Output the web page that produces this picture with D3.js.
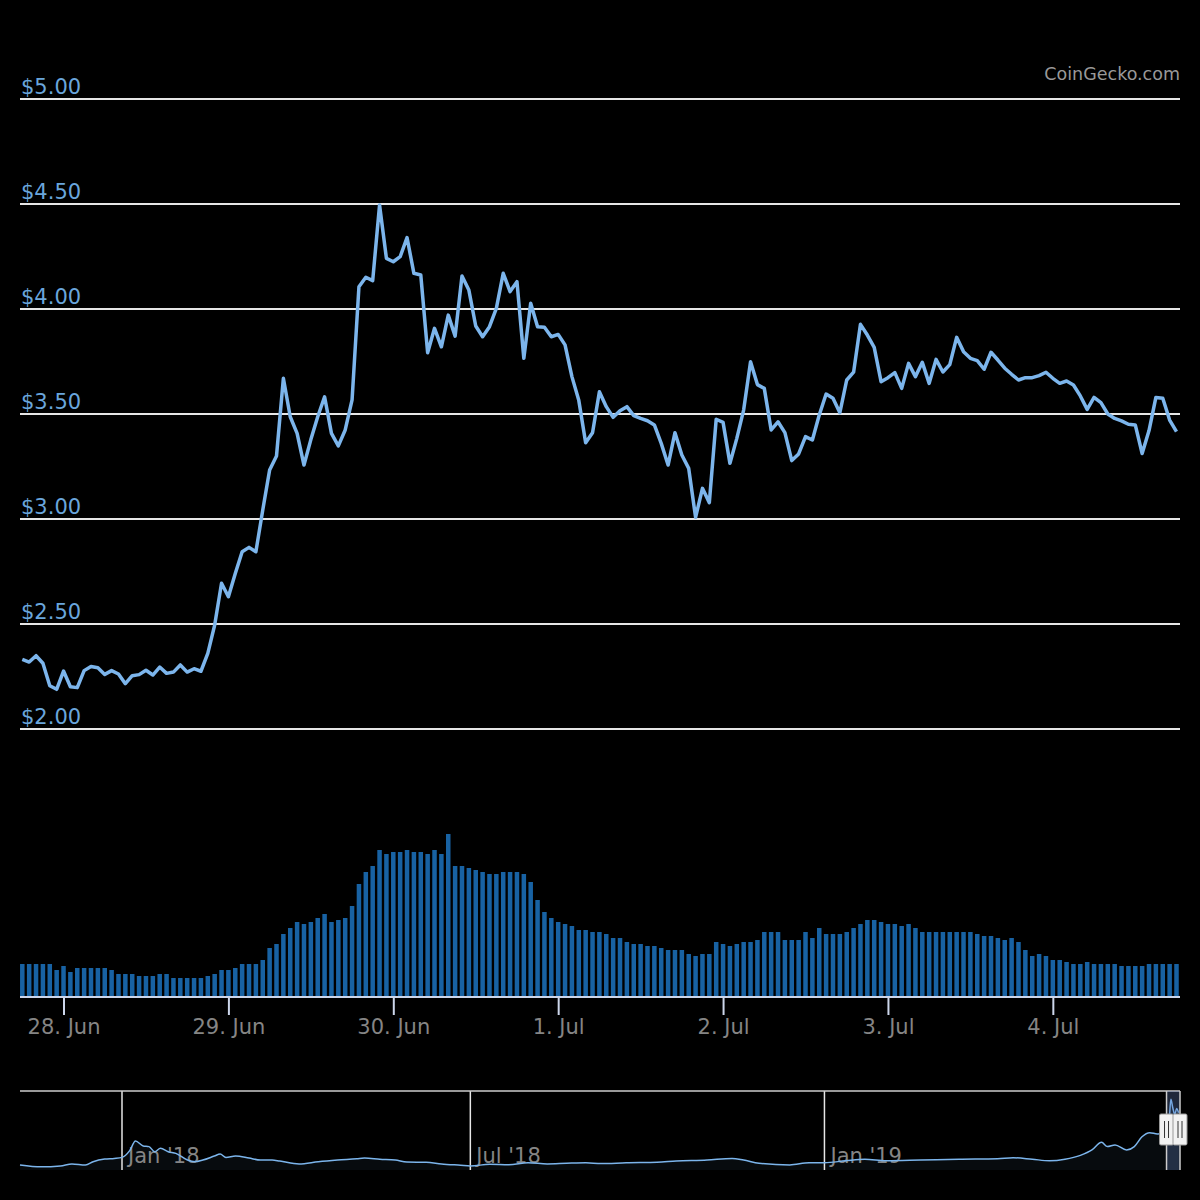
<!DOCTYPE html>
<html>
<head>
<meta charset="utf-8">
<script src="https://cdn.jsdelivr.net/npm/d3@7"></script>
<style>
  body { margin: 0; background: #000; }
  svg { display: block; font-family: "DejaVu Sans", sans-serif; }
</style>
</head>
<body>
<script>
// hourly price, USD, starting 27 Jun 2019 18:00 UTC
var startTime = Date.UTC(2019, 5, 27, 18)
var prices = [
  2.332, 2.319, 2.349, 2.313, 2.206, 2.189, 2.276, 2.201, 2.197, 2.278,
  2.298, 2.292, 2.260, 2.278, 2.262, 2.216, 2.254, 2.259, 2.280, 2.257,
  2.295, 2.265, 2.271, 2.305, 2.271, 2.287, 2.275, 2.360, 2.495, 2.694,
  2.630, 2.741, 2.844, 2.865, 2.844, 3.043, 3.233, 3.300, 3.670, 3.487,
  3.408, 3.257, 3.378, 3.487, 3.582, 3.408, 3.348, 3.424, 3.567, 4.106,
  4.151, 4.135, 4.495, 4.241, 4.225, 4.249, 4.340, 4.170, 4.162, 3.792,
  3.908, 3.820, 3.971, 3.871, 4.157, 4.090, 3.919, 3.868, 3.916, 4.003,
  4.170, 4.083, 4.130, 3.765, 4.027, 3.916, 3.913, 3.868, 3.879, 3.829,
  3.678, 3.565, 3.363, 3.411, 3.606, 3.535, 3.484, 3.516, 3.535, 3.492,
  3.479, 3.468, 3.448, 3.360, 3.257, 3.411, 3.305, 3.241, 3.008, 3.146,
  3.078, 3.475, 3.460, 3.265, 3.384, 3.520, 3.749, 3.640, 3.622, 3.424,
  3.463, 3.411, 3.278, 3.310, 3.392, 3.376, 3.495, 3.595, 3.575, 3.506,
  3.662, 3.699, 3.927, 3.876, 3.817, 3.654, 3.673, 3.697, 3.622, 3.741,
  3.678, 3.746, 3.646, 3.760, 3.700, 3.735, 3.865, 3.797, 3.765, 3.754,
  3.713, 3.794, 3.757, 3.718, 3.689, 3.662, 3.673, 3.673, 3.683, 3.699,
  3.670, 3.646, 3.657, 3.638, 3.586, 3.522, 3.579, 3.554, 3.500, 3.479,
  3.467, 3.451, 3.448, 3.312, 3.421, 3.579, 3.575, 3.471, 3.416
]

// hourly volume (relative units)
var volumes = [
  33, 33, 33, 33, 33, 27, 31, 25, 29, 29, 29, 29, 29, 27, 23, 23, 23, 21, 21, 21,
  23, 23, 19, 19, 19, 19, 19, 21, 23, 27, 27, 29, 33, 33, 33, 37, 49, 53, 63, 69,
  75, 73, 75, 79, 83, 75, 77, 79, 91, 113, 125, 131, 147, 143, 145, 145,
  147, 145, 145, 143, 147, 143, 163, 131, 131, 129, 127, 125, 123, 123, 125, 125,
  125, 123, 115, 97, 85, 79, 75, 73, 71, 67, 67, 65, 65, 63, 59, 59, 55, 53,
  53, 51, 51, 49, 47, 47, 47, 43, 41, 43, 43, 55, 53, 51, 53, 55, 55, 57, 65, 65,
  65, 57,
  57, 57, 65, 59, 69, 63, 63, 63, 65, 69, 73, 77, 77, 75, 73, 73, 71, 73, 69, 65,
  65, 65, 65, 65, 65, 65, 65, 63, 61, 61, 59, 57, 59, 55, 47, 41, 43, 41, 37, 37,
  35, 33, 33, 35, 33, 33, 33, 33, 31, 31, 31, 31, 33, 33, 33, 33, 33
]

var priceTicks = [2, 2.5, 3, 3.5, 4, 4.5, 5]
var dayTicks = ["2019-06-28", "2019-06-29", "2019-06-30", "2019-07-01", "2019-07-02", "2019-07-03", "2019-07-04"]
var dayLabels = ["28. Jun", "29. Jun", "30. Jun", "1. Jul", "2. Jul", "3. Jul", "4. Jul"]

// navigator: full history
var navDates = [
  "2017-11-09", "2017-11-20", "2017-11-30", "2017-12-06", "2017-12-13", "2017-12-17", "2017-12-23", "2017-12-28",
  "2018-01-01", "2018-01-05", "2018-01-08", "2018-01-12", "2018-01-15", "2018-01-18", "2018-01-21", "2018-01-25",
  "2018-01-29", "2018-02-04", "2018-02-08", "2018-02-12", "2018-02-18", "2018-02-21", "2018-02-24", "2018-03-01",
  "2018-03-08", "2018-03-14", "2018-03-20", "2018-03-24", "2018-04-03", "2018-04-13", "2018-04-23", "2018-05-03",
  "2018-05-07", "2018-05-15", "2018-05-23", "2018-05-29", "2018-06-08", "2018-06-16", "2018-06-26", "2018-07-01",
  "2018-07-11", "2018-07-21", "2018-07-31", "2018-08-10", "2018-08-20", "2018-08-30", "2018-09-07", "2018-09-20",
  "2018-10-06", "2018-10-16", "2018-11-01", "2018-11-14", "2018-11-20", "2018-11-28", "2018-12-14", "2018-12-24",
  "2019-01-01", "2019-01-12", "2019-01-22", "2019-02-02", "2019-02-20", "2019-03-12", "2019-04-01", "2019-04-09",
  "2019-04-19", "2019-04-28", "2019-05-06", "2019-05-14", "2019-05-20", "2019-05-25", "2019-05-28", "2019-06-01",
  "2019-06-07", "2019-06-11", "2019-06-15", "2019-06-19", "2019-06-23", "2019-06-27", "2019-06-29", "2019-06-30",
  "2019-07-01", "2019-07-02", "2019-07-03", "2019-07-04"
]
var navPrices = [
  0.40, 0.29, 0.34, 0.46, 0.40, 0.59, 0.75, 0.79,
  0.85, 1.25, 1.82, 1.53, 1.49, 1.19, 1.39, 1.19,
  1.09, 0.69, 0.59, 0.69, 0.93, 1.05, 0.85, 0.93,
  0.81, 0.69, 0.69, 0.63, 0.46, 0.59, 0.69, 0.77,
  0.81, 0.74, 0.69, 0.57, 0.56, 0.46, 0.38, 0.34,
  0.44, 0.41, 0.53, 0.46, 0.50, 0.53, 0.48, 0.53,
  0.56, 0.63, 0.69, 0.79, 0.69, 0.50, 0.40, 0.53,
  0.53, 0.65, 0.74, 0.65, 0.69, 0.74, 0.77, 0.83,
  0.74, 0.65, 0.74, 0.97, 1.29, 1.75, 1.49, 1.59,
  1.29, 1.49, 2.08, 2.32, 2.24, 2.30, 2.90, 4.30,
  3.80, 3.40, 3.75, 3.50
]
var navTicks = ["2018-01-01", "2018-07-01", "2019-01-01"]
var navLabels = ["Jan '18", "Jul '18", "Jan '19"]

var lineColor = "#7cb5ec"
var barColor = "#1862a3"

var times = prices.map(function(d, i) { return new Date(startTime + i * 3600000) })

var svg = d3.select("body").append("svg")
  .attr("width", 1200)
  .attr("height", 1200)

svg.append("rect").attr("width", 1200).attr("height", 1200).attr("fill", "#000")

var x = d3.scaleUtc()
  .domain([times[0], times[times.length - 1]])
  .range([22.3, 1176.5])

var y = d3.scaleLinear().domain([2, 5]).range([729, 99])
var yVol = d3.scaleLinear().domain([0, 170]).range([997, 827])

// credit
svg.append("text")
  .attr("x", 1180).attr("y", 80)
  .attr("text-anchor", "end")
  .attr("font-size", "17.5px")
  .attr("fill", "#999")
  .text("CoinGecko.com")

// price grid + labels
svg.selectAll(".grid")
  .data(priceTicks).enter()
  .append("line")
  .attr("x1", 20).attr("x2", 1180)
  .attr("y1", function(d) { return y(d) })
  .attr("y2", function(d) { return y(d) })
  .attr("stroke", "#e6e6e6")
  .attr("stroke-width", 2)

svg.selectAll(".ylab")
  .data(priceTicks).enter()
  .append("text")
  .attr("x", 21)
  .attr("y", function(d) { return y(d) - 5 })
  .attr("font-size", "21px")
  .attr("fill", "#6aa6dc")
  .text(function(d) { return "$" + d.toFixed(2) })

// volume bars
svg.selectAll(".vol")
  .data(volumes).enter()
  .append("rect")
  .attr("x", function(d, i) { return x(times[i]) - 2.25 })
  .attr("width", 4.5)
  .attr("y", function(d) { return yVol(d) })
  .attr("height", function(d) { return yVol(0) - yVol(d) })
  .attr("fill", barColor)

// price line
var line = d3.line()
  .x(function(d, i) { return x(times[i]) })
  .y(function(d) { return y(d) })

svg.append("path")
  .datum(prices)
  .attr("d", line)
  .attr("fill", "none")
  .attr("stroke", lineColor)
  .attr("stroke-width", 3.5)
  .attr("stroke-linejoin", "round")

// x axis
var xAxis = d3.axisBottom(x)
  .tickValues(dayTicks.map(function(d) { return new Date(d + "T00:00:00Z") }))
  .tickFormat(function(d, i) { return dayLabels[i] })
  .tickSize(18)
  .tickPadding(4)

var gx = svg.append("g")
  .attr("transform", "translate(0,997)")
  .call(xAxis)
gx.select(".domain").remove()
gx.insert("line", ":first-child")
  .attr("x1", 20).attr("x2", 1180)
  .attr("stroke", "#ccd6eb").attr("stroke-width", 2)
gx.selectAll(".tick line").attr("stroke", "#ccd6eb").attr("stroke-width", 2)
gx.selectAll(".tick text")
  .attr("fill", "#858585")
  .attr("font-size", "21px")
  .attr("font-family", "DejaVu Sans, sans-serif")

// navigator
var nx = d3.scaleUtc()
  .domain([new Date("2017-11-09T00:00:00Z"), new Date(Date.UTC(2019, 6, 4, 18))])
  .range([20, 1180])
var ny = d3.scaleLinear().domain([0.1, 4.5]).range([1170, 1096])
var navTimes = navDates.map(function(d) { return new Date(d + "T00:00:00Z") })

svg.append("path")
  .datum(navPrices)
  .attr("d", d3.area()
    .x(function(d, i) { return nx(navTimes[i]) })
    .y0(1170)
    .y1(function(d) { return ny(d) }))
  .attr("fill", "rgba(124,181,236,0.06)")

svg.selectAll(".navgrid")
  .data(navTicks).enter()
  .append("line")
  .attr("x1", function(d) { return nx(new Date(d + "T00:00:00Z")) })
  .attr("x2", function(d) { return nx(new Date(d + "T00:00:00Z")) })
  .attr("y1", 1091).attr("y2", 1170)
  .attr("stroke", "#e6e6e6")
  .attr("stroke-width", 1.5)

svg.selectAll(".navlab")
  .data(navTicks).enter()
  .append("text")
  .attr("x", function(d) { return nx(new Date(d + "T00:00:00Z")) + 6 })
  .attr("y", 1163)
  .attr("font-size", "21px")
  .attr("fill", "#858585")
  .text(function(d, i) { return navLabels[i] })

svg.append("path")
  .datum(navPrices)
  .attr("d", d3.line()
    .x(function(d, i) { return nx(navTimes[i]) })
    .y(function(d) { return ny(d) })
    .curve(d3.curveMonotoneX))
  .attr("fill", "none")
  .attr("stroke", lineColor)
  .attr("stroke-width", 1.5)

svg.append("line")
  .attr("x1", 20).attr("x2", 1180)
  .attr("y1", 1091).attr("y2", 1091)
  .attr("stroke", "#cccccc").attr("stroke-width", 1.5)

// selected range
var m0 = nx(times[0]), m1 = nx(times[times.length - 1])
svg.append("rect")
  .attr("x", m0).attr("y", 1091)
  .attr("width", m1 - m0).attr("height", 79)
  .attr("fill", "rgba(102,133,194,0.3)")
;[m0, m1].forEach(function(mx) {
  svg.append("line")
    .attr("x1", mx).attr("x2", mx)
    .attr("y1", 1091).attr("y2", 1170)
    .attr("stroke", "#cccccc").attr("stroke-width", 1.5)
})
;[m0, m1].forEach(function(mx) {
  svg.append("rect")
    .attr("x", mx - 7).attr("y", 1114)
    .attr("width", 14).attr("height", 31)
    .attr("rx", 1.5)
    .attr("fill", "#f2f2f2")
    .attr("stroke", "#999")
    .attr("stroke-width", 1)
  ;[-2, 2].forEach(function(o) {
    svg.append("line")
      .attr("x1", mx + o).attr("x2", mx + o)
      .attr("y1", 1121).attr("y2", 1138)
      .attr("stroke", "#333").attr("stroke-width", 1)
  })
})
</script>
</body>
</html>
